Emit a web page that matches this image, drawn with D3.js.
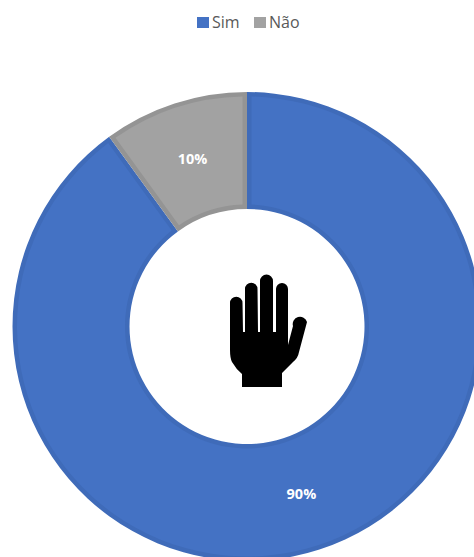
<!DOCTYPE html>
<html>
<head>
<meta charset="utf-8">
<style>
  html, body { margin: 0; padding: 0; background: #fff; overflow: hidden; }
  svg { display: block; }
  text { font-family: "Open Sans", "Noto Sans", sans-serif; }
</style>
<script src="https://cdn.jsdelivr.net/npm/d3@7"></script>
</head>
<body>
<div id="chart"></div>
<script>
const categories = ["Sim", "Não"];
const shares = [90, 10];
const fillColors = ["#4472C4", "#A2A2A2"];
const edgeColors = ["#3F6BB9", "#949494"];

const width = 474, height = 557;
const cx = 247, cy = 326.5, outerR = 234.5, innerR = 117.5, edge = 4.5;
const midR = (outerR + innerR) / 2;

const svg = d3.select("#chart").append("svg")
  .attr("width", width).attr("height", height);

// Donut: each slice is drawn in its edge colour, with an inset fill on top
const pie = d3.pie().sort(null).value(d => d)(shares);
const ring = d3.arc().innerRadius(innerR).outerRadius(outerR);
const face = d3.arc()
  .innerRadius(innerR + edge)
  .outerRadius(outerR - edge)
  .padRadius(midR)
  .padAngle(2 * edge / midR);
const donut = svg.append("g").attr("transform", `translate(${cx},${cy})`);

donut.selectAll("path.edge").data(pie).join("path")
  .attr("class", "edge")
  .attr("d", ring)
  .attr("fill", (d, i) => edgeColors[i]);

donut.selectAll("path.face").data(pie).join("path")
  .attr("class", "face")
  .attr("d", face)
  .attr("fill", (d, i) => fillColors[i]);

donut.selectAll("text").data(pie).join("text")
  .attr("transform", d => `translate(${ring.centroid(d)})`)
  .attr("text-anchor", "middle")
  .attr("dy", "0.36em")
  .attr("fill", "#fff")
  .attr("font-size", 14.5)
  .attr("font-weight", 700)
  .text(d => d.value + "%");

// Legend row above the ring
const legendX = [197, 254];
const legend = svg.append("g");
categories.forEach((name, i) => {
  legend.append("rect")
    .attr("x", legendX[i]).attr("y", 17)
    .attr("width", 12).attr("height", 11)
    .attr("fill", fillColors[i]);
  legend.append("text")
    .attr("x", legendX[i] + 15).attr("y", 28)
    .attr("font-size", 16)
    .attr("fill", "#595959")
    .text(name);
});

// Raised-hand icon in the hole of the donut
svg.append("path")
  .attr("fill", "#000")
  .attr("d", `
    M242 387 L242 374
    Q236 369 232 362 Q230 358 230 350
    L230 303 A6 6 0 0 1 242.500 303
    L243 332 L245 332
    L245 289 A6 6 0 0 1 257.500 289
    L258 332 L260 332
    L260 281 A6.500 6.500 0 0 1 273 281
    L273 332 L276 332
    L276 289 A6 6 0 0 1 288 289
    L288 345 L293 326
    A6.500 6.500 0 0 1 307 322
    L299 352 Q298 358 293 362
    L282 373 L282 387 Z`);
</script>
</body>
</html>
